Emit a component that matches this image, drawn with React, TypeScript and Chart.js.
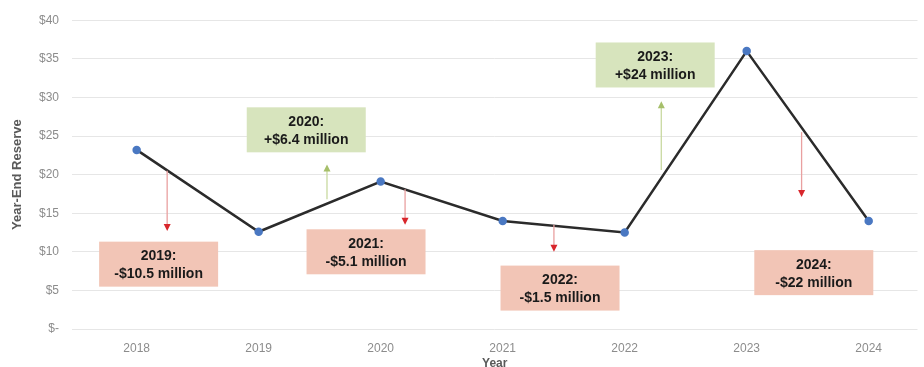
import React, { useEffect, useRef } from "react";
import { Chart, registerables } from "chart.js";

Chart.register(...registerables);

const years = ["2018", "2019", "2020", "2021", "2022", "2023", "2024"];
const reserves = [23.2, 12.6, 19.1, 14.0, 12.5, 36.0, 14.0];

const annYears = ["2019:", "2020:", "2021:", "2022:", "2023:", "2024:"];
const annChanges = ["-$10.5 million", "+$6.4 million", "-$5.1 million", "-$1.5 million", "+$24 million", "-$22 million"];
const annUp = [false, true, false, false, true, false];
const arrowX = [0.25, 1.56, 2.2, 3.42, 4.3, 5.45];
const arrowFrom = [20.5, 16.8, 18.1, 13.5, 20.6, 25.5];
const arrowTo = [12.7, 21.3, 13.5, 10.0, 29.5, 17.1];
const boxX = [0.18, 1.39, 1.88, 3.47, 4.25, 5.55];
const boxY = [8.4, 25.8, 10.0, 5.3, 34.2, 7.3];

const FONT = "'Liberation Sans', Arial, sans-serif";

const annotationPlugin = {
  id: "annotations",
  afterDatasetsDraw(chart: any) {
    const { ctx, scales } = chart;
    const xs = scales.x;
    const ys = scales.y;
    ctx.save();
    for (let i = 0; i < annYears.length; i++) {
      const up = annUp[i];
      const ax = xs.getPixelForValue(arrowX[i]);
      const y1 = ys.getPixelForValue(arrowFrom[i]);
      const y2 = ys.getPixelForValue(arrowTo[i]);
      const lineCol = up ? "#c9d9a0" : "#e9a0a0";
      const headCol = up ? "#a6bf6a" : "#d8262c";
      ctx.strokeStyle = lineCol;
      ctx.lineWidth = 1.3;
      ctx.beginPath();
      ctx.moveTo(ax, y1);
      ctx.lineTo(ax, y2 + (up ? 5 : -5));
      ctx.stroke();
      ctx.fillStyle = headCol;
      ctx.beginPath();
      if (up) {
        ctx.moveTo(ax, y2);
        ctx.lineTo(ax - 3.5, y2 + 7);
        ctx.lineTo(ax + 3.5, y2 + 7);
      } else {
        ctx.moveTo(ax, y2);
        ctx.lineTo(ax - 3.5, y2 - 7);
        ctx.lineTo(ax + 3.5, y2 - 7);
      }
      ctx.closePath();
      ctx.fill();

      const bx = xs.getPixelForValue(boxX[i]);
      const by = ys.getPixelForValue(boxY[i]);
      const bw = 119;
      const bh = 45;
      ctx.fillStyle = up ? "#d7e4bd" : "#f2c5b6";
      ctx.fillRect(bx - bw / 2, by - bh / 2, bw, bh);
      ctx.fillStyle = "#1a1a1a";
      ctx.font = "bold 14px " + FONT;
      ctx.textAlign = "center";
      ctx.textBaseline = "middle";
      ctx.fillText(annYears[i], bx, by - 8);
      ctx.fillText(annChanges[i], bx, by + 10);
    }
    ctx.restore();
  },
};

export default function App() {
  const ref = useRef<HTMLCanvasElement | null>(null);
  useEffect(() => {
    if (!ref.current) return;
    const chart = new Chart(ref.current, {
      type: "line",
      data: {
        datasets: [
          {
            data: reserves.map((v, i) => ({ x: i, y: v })),
            borderColor: "#2b2b2b",
            borderWidth: 2.5,
            pointBackgroundColor: "#4a78c2",
            pointBorderColor: "#4a78c2",
            pointRadius: 3,
            tension: 0,
          },
        ],
      },
      options: {
        animation: false,
        responsive: false,
        layout: { padding: { top: 14, right: 4, bottom: 0, left: 0 } },
        plugins: { legend: { display: false }, tooltip: { enabled: false } },
        scales: {
          x: {
            type: "linear",
            min: -0.53,
            max: 6.4,
            afterBuildTicks: (s: any) => {
              s.ticks = years.map((_, i) => ({ value: i }));
            },
            afterFit: (s: any) => {
              s.height = 38;
            },
            grid: { display: false, drawTicks: false },
            border: { display: false },
            ticks: {
              padding: 12,
              color: "#8c8c8c",
              font: { family: FONT, size: 12 },
              maxRotation: 0,
              autoSkip: false,
              callback: (v: any) => years[v as number] ?? "",
            },
            title: {
              display: true,
              text: "Year",
              color: "#595959",
              font: { family: FONT, size: 12, weight: "bold" },
              padding: { top: 0, bottom: -4 },
            },
          },
          y: {
            min: 0,
            max: 40,
            afterFit: (s: any) => {
              s.width = 72;
            },
            grid: { color: "#e6e6e6", lineWidth: 1, drawTicks: false },
            border: { display: false },
            ticks: {
              stepSize: 5,
              padding: 13,
              color: "#8c8c8c",
              font: { family: FONT, size: 12 },
              callback: (v: any) => (v === 0 ? "$-" : "$" + v),
            },
            title: {
              display: true,
              text: "Year-End Reserve",
              color: "#595959",
              font: { family: FONT, size: 13, weight: "bold" },
              padding: { top: 10, bottom: 0 },
            },
          },
        },
      },
      plugins: [annotationPlugin],
    });
    return () => chart.destroy();
  }, []);
  return (
    <div style={{ position: "fixed", left: 0, top: 0, width: 924, height: 367, background: "#fff" }}>
      <canvas ref={ref} width={924} height={367} style={{ display: "block" }} />
    </div>
  );
}
